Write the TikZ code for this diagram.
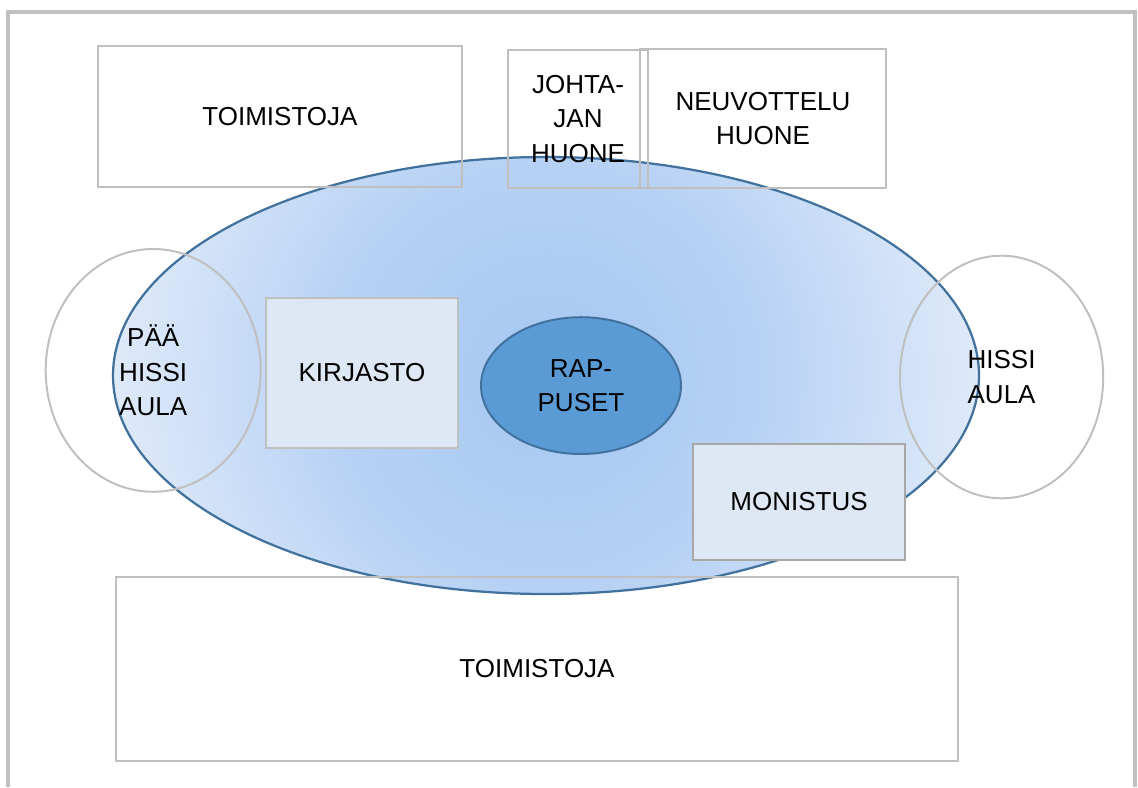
\documentclass[tikz,border=0pt]{standalone}
\usepackage{fontspec}
\setmainfont{Liberation Sans}
\usepackage{tikz}
\usetikzlibrary{shapes.geometric}
\definecolor{framegray}{HTML}{C0C0C0}
\definecolor{boxgray}{HTML}{BFBFBF}
\definecolor{darkgray}{HTML}{A8A8A8}
\definecolor{roomfill}{HTML}{DEE8F5}
\definecolor{lobbyin}{HTML}{A6C8F2}
\definecolor{lobbymid}{HTML}{B6D1F4}
\definecolor{lobbyout}{HTML}{DFEAF9}
\definecolor{lobbyline}{HTML}{41719C}
\definecolor{mailfill}{HTML}{5B9BD5}
\pgfdeclareradialshading{lobbyshade}{\pgfpoint{0bp}{0bp}}{color(0bp)=(lobbyin); color(12bp)=(lobbymid); color(25bp)=(lobbyout); color(50bp)=(lobbyout)}

\begin{document}
\begin{tikzpicture}
		\tikzset{room/.style={shape = rectangle, draw = boxgray, line width = 1.4pt, align = center, inner sep = 0pt, font = \fontsize{18.5}{24.5}\selectfont}}
		\tikzset{filledroom/.style={room, fill = roomfill}}
		\tikzset{hall/.style={shape = ellipse, draw = boxgray, line width = 1.4pt, align = center, inner sep = 0pt, font = \fontsize{18.5}{24.5}\selectfont}}
		\useasboundingbox (0, 0) rectangle (28.45, -19.675);
		%lobby
		\node[shape = ellipse, draw = lobbyline, line width = 1.6pt, minimum width = 21.65cm, minimum height = 10.925cm,
			path picture = {\shade[shading = lobbyshade] (path picture bounding box.center) circle (10.85cm);}] (lobby) at (13.65, -9.3875) {};
		\node[filledroom, minimum width = 4.8cm, minimum height = 3.75cm] (library) at (9.05, -9.325) {KIRJASTO};
		\node[hall, draw = lobbyline, fill = mailfill, minimum width = 5cm, minimum height = 3.42cm] (mail) at (14.525, -9.64) {RAP-\\PUSET};
		\node[filledroom, draw = darkgray, minimum width = 5.29cm, minimum height = 2.9cm] (copy) at (19.975, -12.55) {MONISTUS};
		%rooms
		\node[room, minimum width = 9.1cm, minimum height = 3.525cm] (officetop) at (7.0, -2.9125) {TOIMISTOJA};
		\node[room, minimum width = 3.5cm, minimum height = 3.45cm] (director) at (14.45, -2.975) {JOHTA-\\JAN\\HUONE};
		\node[room, minimum width = 6.15cm, minimum height = 3.475cm] (meeting) at (19.075, -2.9625) {NEUVOTTELU\\HUONE};
		\node[room, minimum width = 21.065cm, minimum height = 4.6cm] (officebottom) at (13.425, -16.725) {TOIMISTOJA};
		%halls
		\node[hall, minimum width = 5.375cm, minimum height = 6.07cm] (mainhall) at (3.83, -9.26) {PÄÄ\\HISSI\\AULA};
		\node[hall, minimum width = 5.08cm, minimum height = 6.065cm] (sidehall) at (25.04, -9.425) {HISSI\\AULA};
		%frame
		\draw[framegray, line width = 2.6pt] (0.2, -19.675) -- (0.2, -0.3) -- (28.375, -0.3) -- (28.375, -19.675);
\end{tikzpicture}
\end{document}
